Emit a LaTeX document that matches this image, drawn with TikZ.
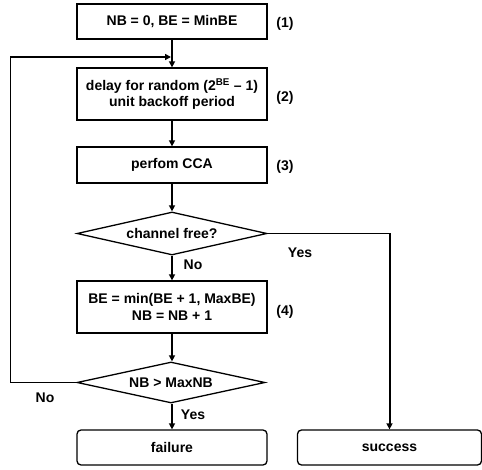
\documentclass[tikz,border=0pt]{standalone}
\usepackage{fontspec}
\setmainfont{Liberation Sans}
\usetikzlibrary{shapes.geometric,arrows.meta}
\begin{document}
\begin{tikzpicture}[x=1pt,y=-1pt,
  every node/.style={font=\fontsize{14}{16.5}\selectfont\bfseries},
  box/.style={draw,line width=1.3pt,minimum width=190pt,inner sep=0pt,align=center},
  term/.style={box,rounded corners=4pt,minimum height=35pt},
  dec/.style={draw,diamond,line width=1.3pt,inner sep=0pt,aspect=4},
  lbl/.style={inner sep=0pt},
  flow/.style={line width=2pt,-{Triangle[length=6pt,width=6pt]}},
  thin/.style={line width=1pt}]
\useasboundingbox (0,0) rectangle (482,470);
\node[box,minimum height=35pt] (b1) at (172,21.5) {NB = 0, BE = MinBE};
\node[box,minimum height=52pt] (b2) at (172,94) {delay for random (2\textsuperscript{BE} -- 1)\\unit backoff period};
\node[box,minimum height=36pt] (b3) at (172,165) {perfom CCA};
\node[dec,minimum width=190pt,minimum height=43pt] (d1) at (172,233.5) {channel free?};
\node[box,minimum height=52pt] (b4) at (172,307) {BE = min(BE + 1, MaxBE)\\NB = NB + 1};
\node[dec,minimum width=188pt,minimum height=41pt] (d2) at (171,382.5) {NB > MaxNB};
\node[term] (fail) at (172,447.5) {failure};
\node[term,minimum width=184pt] (succ) at (389.5,447.5) {success};

\node[lbl] (l1) at (285,24) {(1)};
\node[lbl] (l2) at (285,98) {(2)};
\node[lbl] (l3) at (285,167) {(3)};
\node[lbl] (l4) at (285,312) {(4)};
\node[lbl] (yes1) at (300,253) {Yes};
\node[lbl] (no1) at (193,265) {No};
\node[lbl] (no2) at (45,398) {No};
\node[lbl] (yes2) at (193,415) {Yes};

\coordinate (loopL) at (10,382.5);
\coordinate (loopT) at (10,57);
\coordinate (loopE) at (171,57);

\draw[flow] (b1) -- (b2);
\draw[flow] (b2) -- (b3);
\draw[flow] (b3) -- (d1);
\draw[flow] (d1) -- (b4);
\draw[flow] (b4) -- (b4 |- d2.north);
\draw[flow] (fail |- d2.south) -- (fail);
\draw[thin] (d1.east) -- (succ.north |- d1.east);
\draw[flow] (succ.north |- d1.east) -- (succ.north);
\draw[thin] (d2.west) -- (loopL) -- (loopT);
\draw[flow] (loopT) -- (loopE);
\end{tikzpicture}
\end{document}
